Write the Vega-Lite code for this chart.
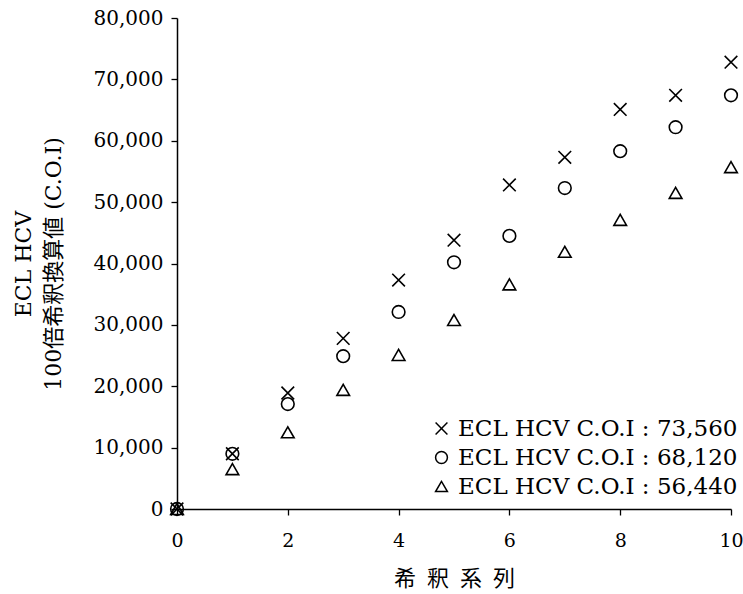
{
  "$schema": "https://vega.github.io/schema/vega-lite/v6.json",
  "width": 554,
  "height": 491,
  "autosize": "none",
  "padding": {"left": 177, "top": 18, "right": 12, "bottom": 85},
  "background": "white",
  "config": {
    "view": {"stroke": null},
    "font": "DejaVu Serif, Noto Sans CJK JP"
  },
  "data": {
    "values": [
      {"d": 0, "v": 0, "s": "ECL HCV C.O.I : 73,560"},
      {"d": 1, "v": 9000, "s": "ECL HCV C.O.I : 73,560"},
      {"d": 2, "v": 18900, "s": "ECL HCV C.O.I : 73,560"},
      {"d": 3, "v": 27800, "s": "ECL HCV C.O.I : 73,560"},
      {"d": 4, "v": 37300, "s": "ECL HCV C.O.I : 73,560"},
      {"d": 5, "v": 43800, "s": "ECL HCV C.O.I : 73,560"},
      {"d": 6, "v": 52800, "s": "ECL HCV C.O.I : 73,560"},
      {"d": 7, "v": 57300, "s": "ECL HCV C.O.I : 73,560"},
      {"d": 8, "v": 65100, "s": "ECL HCV C.O.I : 73,560"},
      {"d": 9, "v": 67400, "s": "ECL HCV C.O.I : 73,560"},
      {"d": 10, "v": 72800, "s": "ECL HCV C.O.I : 73,560"},
      {"d": 0, "v": 0, "s": "ECL HCV C.O.I : 68,120"},
      {"d": 1, "v": 9000, "s": "ECL HCV C.O.I : 68,120"},
      {"d": 2, "v": 17100, "s": "ECL HCV C.O.I : 68,120"},
      {"d": 3, "v": 24900, "s": "ECL HCV C.O.I : 68,120"},
      {"d": 4, "v": 32100, "s": "ECL HCV C.O.I : 68,120"},
      {"d": 5, "v": 40200, "s": "ECL HCV C.O.I : 68,120"},
      {"d": 6, "v": 44500, "s": "ECL HCV C.O.I : 68,120"},
      {"d": 7, "v": 52300, "s": "ECL HCV C.O.I : 68,120"},
      {"d": 8, "v": 58300, "s": "ECL HCV C.O.I : 68,120"},
      {"d": 9, "v": 62200, "s": "ECL HCV C.O.I : 68,120"},
      {"d": 10, "v": 67400, "s": "ECL HCV C.O.I : 68,120"},
      {"d": 0, "v": 0, "s": "ECL HCV C.O.I : 56,440"},
      {"d": 1, "v": 6500, "s": "ECL HCV C.O.I : 56,440"},
      {"d": 2, "v": 12500, "s": "ECL HCV C.O.I : 56,440"},
      {"d": 3, "v": 19400, "s": "ECL HCV C.O.I : 56,440"},
      {"d": 4, "v": 25100, "s": "ECL HCV C.O.I : 56,440"},
      {"d": 5, "v": 30800, "s": "ECL HCV C.O.I : 56,440"},
      {"d": 6, "v": 36600, "s": "ECL HCV C.O.I : 56,440"},
      {"d": 7, "v": 41900, "s": "ECL HCV C.O.I : 56,440"},
      {"d": 8, "v": 47100, "s": "ECL HCV C.O.I : 56,440"},
      {"d": 9, "v": 51500, "s": "ECL HCV C.O.I : 56,440"},
      {"d": 10, "v": 55700, "s": "ECL HCV C.O.I : 56,440"}
    ]
  },
  "mark": {"type": "point", "filled": false, "strokeWidth": 1.6, "size": 160, "opacity": 1},
  "encoding": {
    "x": {
      "field": "d", "type": "quantitative",
      "scale": {"domain": [0, 10], "nice": false, "zero": false},
      "axis": {
        "values": [0, 2, 4, 6, 8, 10], "grid": false, "domainColor": "black", "domainWidth": 1.5,
        "tickColor": "black", "tickWidth": 1.3, "tickSize": 6, "labelFont": "DejaVu Serif",
        "labelFontSize": 19, "labelColor": "black", "labelPadding": 16, "labelFlush": false,
        "title": "希\u2002釈\u2002系\u2002列", "titleFont": "Noto Sans CJK JP", "titleFontSize": 22,
        "titleFontWeight": "normal", "titleColor": "black", "titlePadding": 18
      }
    },
    "y": {
      "field": "v", "type": "quantitative",
      "scale": {"domain": [0, 80000], "nice": false},
      "axis": {
        "values": [0, 10000, 20000, 30000, 40000, 50000, 60000, 70000, 80000], "format": ",d",
        "grid": false, "domainColor": "black", "domainWidth": 1.5,
        "tickColor": "black", "tickWidth": 1.3, "tickSize": 6, "labelFont": "DejaVu Serif",
        "labelFontSize": 20, "labelColor": "black", "labelPadding": 8, "labelFlush": false,
        "title": ["ECL HCV", "100倍希釈換算値 (C.O.I)"],
        "titleFont": "DejaVu Serif, Noto Sans CJK JP", "titleFontSize": 22,
        "titleFontWeight": "normal", "titleColor": "black", "titlePadding": 28, "titleLineHeight": 30
      }
    },
    "shape": {
      "field": "s", "type": "nominal",
      "scale": {
        "domain": ["ECL HCV C.O.I : 73,560", "ECL HCV C.O.I : 68,120", "ECL HCV C.O.I : 56,440"],
        "range": ["M-1,-1L1,1M1,-1L-1,1", "circle", "triangle-up"]
      },
      "legend": {
        "title": null, "orient": "none", "legendX": 253, "legendY": 399,
        "labelFont": "DejaVu Serif", "labelFontSize": 23, "labelColor": "black",
        "symbolStrokeColor": "black", "symbolStrokeWidth": 1.5, "symbolSize": 140,
        "symbolFillColor": "transparent", "rowPadding": 5, "labelOffset": 5, "labelLimit": 400
      }
    },
    "color": {"value": "black"}
  }
}
